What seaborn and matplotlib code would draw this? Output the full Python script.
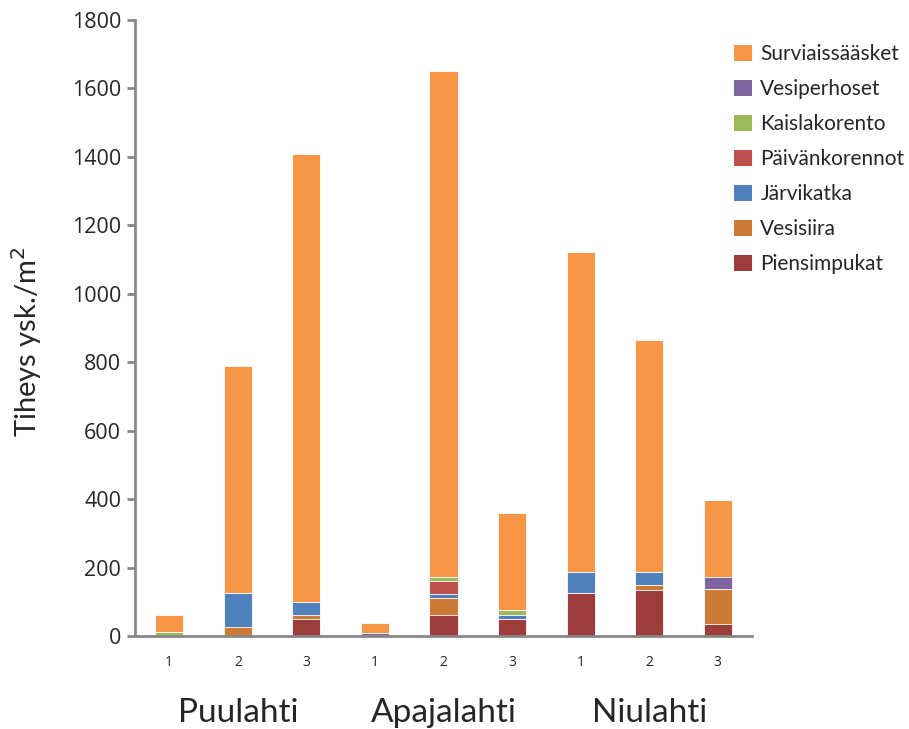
import numpy as np
import pandas as pd
import matplotlib
matplotlib.use("Agg")
import matplotlib.pyplot as plt
from matplotlib.patches import Patch
import seaborn as sns

# Sites and sampling points
sites = ["Puulahti", "Apajalahti", "Niulahti"]
points = ["1", "2", "3"]

# Taxa in stacking order (bottom -> top)
taxa = ["Piensimpukat", "Vesisiira", "Järvikatka", "Päivänkorennot",
        "Kaislakorento", "Vesiperhoset", "Surviaissääsket"]
colors = ["#9C3D3B", "#CD7A37", "#4F81BD", "#C0504D",
          "#9BBB59", "#8064A2", "#F79646"]

# Density values (ind./m²), one entry per bar: Puulahti 1-3, Apajalahti 1-3, Niulahti 1-3
piensimpukat    = [0,   0,   50,   0,  61,  50, 125, 135,  36]
vesisiira       = [0,  25,   11,   0,  51,   0,   0,  13, 101]
jarvikatka      = [0, 100,   37,   0,  12,  12,  61,  38,   0]
paivankorennot  = [0,   0,    0,   0,  38,   0,   0,   0,   0]
kaislakorento   = [12,  0,    0,   0,  11,  13,   0,   0,   0]
vesiperhoset    = [0,   0,    0,  10,   0,   0,   0,   0,  36]
surviaissaasket = [50, 665, 1310, 27, 1479, 285, 937, 679, 224]

series = [piensimpukat, vesisiira, jarvikatka, paivankorennot,
          kaislakorento, vesiperhoset, surviaissaasket]

bar_ids = [f"{s}-{p}" for s in sites for p in points]
cum = np.cumsum(np.array(series, dtype=float), axis=0)
df = pd.DataFrame(cum.T, columns=taxa)
df["bar"] = bar_ids

sns.set_style("white")
plt.rcParams["font.family"] = ["Open Sans", "DejaVu Sans"]
label_font = ["Lato", "DejaVu Sans"]

fig = plt.figure(figsize=(9.09, 7.29), dpi=100)
ax = fig.add_axes([135 / 909, 1 - 636 / 729, 617 / 909, 616 / 729])

# Overlapping cumulative totals, tallest first, give the stacked look
for name, col in reversed(list(zip(taxa, colors))):
    sns.barplot(data=df, x="bar", y=name, order=bar_ids, color=col,
                width=0.41, ax=ax, edgecolor="white", linewidth=0.6,
                saturation=1)

ax.set_ylim(0, 1800)
ax.set_xlim(-0.5, 8.5)
ax.set_yticks(np.arange(0, 1801, 200))
ax.set_yticklabels([str(v) for v in range(0, 1801, 200)], fontsize=15.5)
ax.set_xticks(range(9))
ax.set_xticklabels(points * 3, fontsize=10)
ax.set_xticks(np.arange(-0.5, 9, 1), minor=True)
ax.tick_params(axis="x", which="major", length=0, pad=14)
ax.tick_params(axis="x", which="minor", length=6, width=2, color="#888888",
               direction="out")
ax.tick_params(axis="y", length=6, width=2, color="#888888", direction="out",
               left=True, pad=4)
ax.set_xlabel("")
ax.set_ylabel("Tiheys ysk./m$^2$", fontsize=21, family=label_font)
ax.yaxis.set_label_coords(-0.148, 0.478)

for side in ["top", "right"]:
    ax.spines[side].set_visible(False)
for side in ["left", "bottom"]:
    ax.spines[side].set_color("#888888")
    ax.spines[side].set_linewidth(2)

# Site names under each group of three bars
for i, s in enumerate(sites):
    ax.text(3 * i + 1, -0.125, s, transform=ax.get_xaxis_transform(),
            ha="center", va="center", fontsize=24, family=label_font)

handles = [Patch(facecolor=c, edgecolor="none") for c in reversed(colors)]
fig.legend(handles, list(reversed(taxa)), loc="upper left",
           bbox_to_anchor=(726 / 909, 1 - 36 / 729), frameon=False,
           prop={"family": label_font, "size": 15},
           handlelength=0.85, handleheight=0.85,
           handletextpad=0.4, labelspacing=0.72, borderaxespad=0)

fig.savefig("out.png", dpi=100)
